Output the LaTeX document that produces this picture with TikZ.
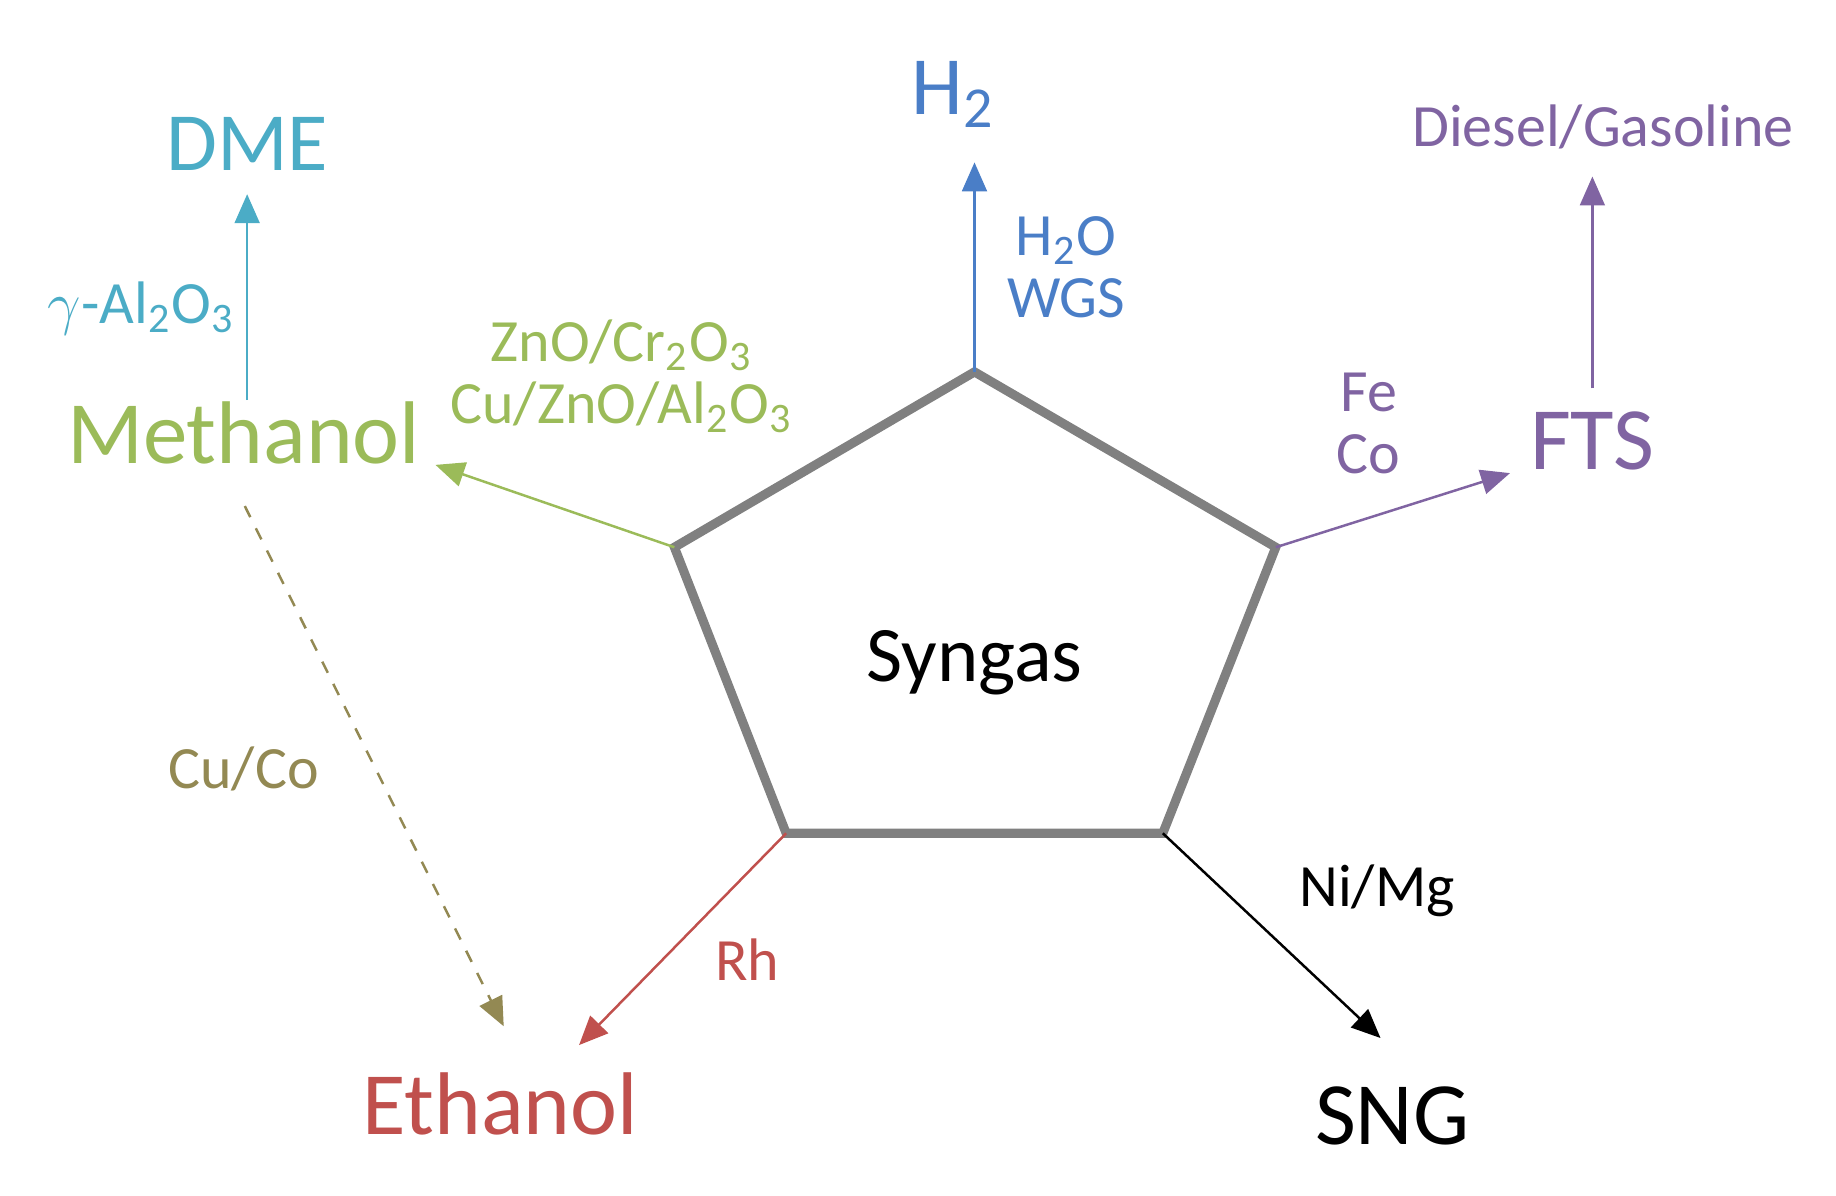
\documentclass[tikz,border=0pt]{standalone}
\usepackage{fontspec}
\setmainfont{Carlito}
\usetikzlibrary{arrows.meta}
\definecolor{cblue}{RGB}{74,126,199}
\definecolor{ccyan}{RGB}{75,172,198}
\definecolor{cgreen}{RGB}{155,187,89}
\definecolor{cred}{RGB}{192,80,77}
\definecolor{cpurple}{RGB}{128,100,162}
\definecolor{colive}{RGB}{147,137,83}
\definecolor{cgray}{RGB}{128,128,128}
\tikzset{
  arr/.style={line width=0.6pt,-{Triangle[length=7pt,width=6pt]}},
  big/.style={font=\fontsize{21.5}{24}\selectfont,inner sep=0pt},
  mid/.style={font=\fontsize{20}{22}\selectfont,inner sep=0pt},
  cat/.style={font=\fontsize{14.5}{17}\selectfont,inner sep=0pt,align=center},
}
\begin{document}
\begin{tikzpicture}[x=0.01cm,y=-0.01cm]
\useasboundingbox (0,0) rectangle (1560,1016);
\coordinate (T) at (828,316);
\coordinate (R) at (1084,465);
\coordinate (BR) at (988,708);
\coordinate (BL) at (668,708);
\coordinate (L) at (573,465);
\draw[cgray,line width=2.2pt,line join=miter] (T)--(R)--(BR)--(BL)--(L)--cycle;
\node[font=\fontsize{19}{21}\selectfont] (syn) at (828,563) {Syngas};
% H2
\node[mid,text=cblue] (h2) at (810,80) {H\textsubscript{2}};
\coordinate (h2e) at (828,138);
\draw[arr,cblue] (T)--(h2e);
\node[cat,text=cblue,anchor=west] (wgs) at (855,227) {H\textsubscript{2}O\\[-2pt]WGS};
% DME
\node[mid,text=ccyan] (dme) at (210,122) {DME};
\node[big,text=cgreen] (meth) at (207,368) {Methanol};
\coordinate (ms) at (210,340);
\coordinate (me) at (210,165);
\draw[arr,ccyan] (ms)--(me);
\node[cat,text=ccyan] (al) at (120,262) {$\gamma$-Al\textsubscript{2}O\textsubscript{3}};
% methanol
\coordinate (mete) at (370,395);
\draw[arr,cgreen] (L)--(mete);
\node[cat,text=cgreen] (zn) at (528,320) {ZnO/Cr\textsubscript{2}O\textsubscript{3}\\[-2pt]Cu/ZnO/Al\textsubscript{2}O\textsubscript{3}};
% dashed
\coordinate (ds) at (208,430);
\coordinate (de) at (428,872);
\draw[arr,colive,dashed] (ds)--(de);
\node[cat,text=colive] (cuco) at (207,653) {Cu/Co};
% ethanol
\node[big,text=cred] (eth) at (425,938) {Ethanol};
\coordinate (ee) at (492,888);
\draw[arr,cred] (BL)--(ee);
\node[cat,text=cred] (rh) at (635,815) {Rh};
% SNG
\node[big,text=black] (sng) at (1183,948) {SNG};
\coordinate (se) at (1173,882);
\draw[arr,black] (BR)--(se);
\node[cat] (ni) at (1170,757) {Ni/Mg};
% FTS
\node[big,text=cpurple] (fts) at (1353,375) {FTS};
\coordinate (fe) at (1283,402);
\draw[arr,cpurple] (R)--(fe);
\node[cat,text=cpurple] (feco) at (1163,360) {Fe\\[-2pt]Co};
\coordinate (fs) at (1353,330);
\coordinate (fu) at (1353,150);
\draw[arr,cpurple] (fs)--(fu);
\node[cat,text=cpurple] (dg) at (1362,108) {Diesel/Gasoline};
\end{tikzpicture}
\end{document}
